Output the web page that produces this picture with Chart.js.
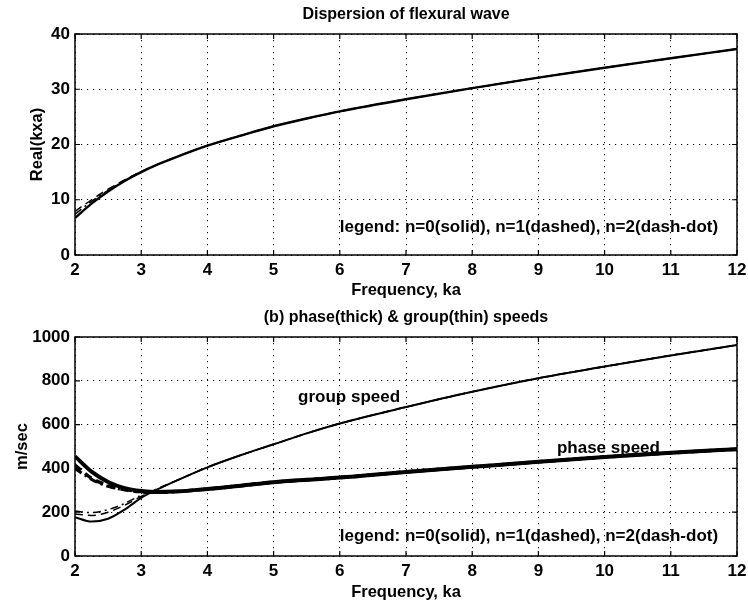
<!DOCTYPE html>
<html>
<head>
<meta charset="utf-8">
<script src="https://cdn.jsdelivr.net/npm/chart.js@4.4.1/dist/chart.umd.min.js"></script>
<style>
  body { margin: 0; background: #fff; }
  .panel { position: relative; width: 748px; }
  #top { height: 305px; }
  #bottom { height: 300px; }
</style>
</head>
<body>
<div class="panel" id="top"><canvas id="wave"></canvas></div>
<div class="panel" id="bottom"><canvas id="speed"></canvas></div>
<script>
// frequency samples (ka)
const ka = [2, 2.25, 2.5, 2.75, 3, 3.25, 3.5, 4, 4.5, 5, 5.5, 6, 7, 8, 9, 10, 11, 12]

// Real(kxa) for the first three modes
const kxN0 = [6.7, 9.3, 11.5, 13.4, 15.0, 16.4, 17.6, 19.8, 21.6, 23.3, 24.7, 26.0, 28.2, 30.2, 32.1, 33.9, 35.6, 37.3]
const kxN1 = [7.9, 10.0, 11.9, 13.6, 15.1, 16.4, 17.6, 19.8, 21.6, 23.3, 24.7, 26.0, 28.2, 30.2, 32.1, 33.9, 35.6, 37.3]
const kxN2 = [7.4, 9.7, 11.7, 13.5, 15.05, 16.4, 17.6, 19.8, 21.6, 23.3, 24.7, 26.0, 28.2, 30.2, 32.1, 33.9, 35.6, 37.3]

// phase speed, m/sec
const phaseN0 = [455, 385, 338, 310, 297, 292, 294, 306, 321, 337, 348, 358, 384, 407, 430, 452, 471, 488]
const phaseN1 = [415, 355, 322, 303, 294, 292, 294, 306, 321, 337, 348, 358, 384, 407, 430, 452, 471, 488]
const phaseN2 = [400, 350, 318, 302, 294, 292, 294, 306, 321, 337, 348, 358, 384, 407, 430, 452, 471, 488]

// group speed, m/sec
const groupN0 = [177, 157, 170, 212, 265, 305, 340, 405, 460, 510, 560, 605, 680, 750, 812, 865, 916, 963]
const groupN1 = [192, 185, 200, 232, 272, 307, 340, 405, 460, 510, 560, 605, 680, 750, 812, 865, 916, 963]
const groupN2 = [205, 198, 212, 240, 278, 308, 340, 405, 460, 510, 560, 605, 680, 750, 812, 865, 916, 963]

const legendNote = "legend: n=0(solid), n=1(dashed), n=2(dash-dot)"

const FONT = '"Liberation Sans", Arial, Helvetica, sans-serif'
const DASHED = [8, 5]
const DASH_DOT = [8, 4, 2, 4]

Chart.defaults.font.family = FONT
Chart.defaults.color = "#000"

const points = (ys) => ys.map((y, i) => ({ x: ka[i], y }))

const line = (ys, width, dash) => ({
  data: points(ys),
  borderColor: "#000",
  borderWidth: width,
  borderDash: dash || [],
  pointRadius: 0,
  cubicInterpolationMode: "monotone",
  fill: false,
})

// closed axes box with inward tick marks on all four sides
const frame = {
  id: "frame",
  afterDatasetsDraw(chart) {
    const { ctx, chartArea: a, scales: { x, y } } = chart
    const len = 5
    ctx.save()
    ctx.strokeStyle = "#000"
    ctx.lineWidth = 1.5
    ctx.strokeRect(a.left, a.top, a.right - a.left, a.bottom - a.top)
    ctx.lineWidth = 1.2
    ctx.beginPath()
    x.ticks.forEach((t) => {
      const px = x.getPixelForValue(t.value)
      ctx.moveTo(px, a.bottom)
      ctx.lineTo(px, a.bottom - len)
      ctx.moveTo(px, a.top)
      ctx.lineTo(px, a.top + len)
    })
    y.ticks.forEach((t) => {
      const py = y.getPixelForValue(t.value)
      ctx.moveTo(a.left, py)
      ctx.lineTo(a.left + len, py)
      ctx.moveTo(a.right, py)
      ctx.lineTo(a.right - len, py)
    })
    ctx.stroke()
    ctx.restore()
  },
}

// text annotations placed in data coordinates
const notes = {
  id: "notes",
  afterDatasetsDraw(chart, args, opts) {
    const { ctx, scales: { x, y } } = chart
    ctx.save()
    ctx.fillStyle = "#000"
    ctx.font = "bold 17px " + FONT
    ctx.textBaseline = "middle"
    ctx.textAlign = "left"
    ;(opts.items || []).forEach((n) => {
      ctx.fillText(n.text, x.getPixelForValue(n.x), y.getPixelForValue(n.y))
    })
    ctx.restore()
  },
}

const makeOptions = ({ title, titlePad, yTitle, yTitlePad, yMax, yStep, xHeight, xTitlePad, items }) => ({
  animation: false,
  responsive: true,
  maintainAspectRatio: false,
  layout: { padding: { left: 0, right: 11, top: 0, bottom: 0 } },
  plugins: {
    legend: { display: false },
    tooltip: { enabled: false },
    title: {
      display: true,
      fullSize: false,
      text: title,
      color: "#000",
      font: { size: 16, weight: "bold" },
      padding: titlePad,
    },
    notes: { items },
  },
  scales: {
    x: {
      type: "linear",
      min: 2,
      max: 12,
      afterFit: (scale) => {
        scale.height = xHeight
        scale.paddingLeft = 0
        scale.paddingRight = 0
      },
      ticks: { stepSize: 1, padding: 5, maxRotation: 0, font: { size: 17, weight: "bold" } },
      grid: { color: "#000", lineWidth: 1, drawTicks: false },
      border: { display: false, dash: [1.2, 4.8] },
      title: {
        display: true,
        text: "Frequency, ka",
        font: { size: 16.5, weight: "bold" },
        padding: { top: 0, bottom: xTitlePad },
      },
    },
    y: {
      min: 0,
      max: yMax,
      afterFit: (scale) => { scale.width = 75 },
      ticks: {
        stepSize: yStep,
        padding: 5,
        font: { size: 17, weight: "bold" },
        callback: (value) => String(value),
      },
      grid: { color: "#000", lineWidth: 1, drawTicks: false },
      border: { display: false, dash: [1.2, 4.8] },
      title: {
        display: true,
        text: yTitle,
        font: { size: 16.5, weight: "bold" },
        padding: { top: yTitlePad, bottom: 0 },
      },
    },
  },
})

new Chart(document.getElementById("wave"), {
  type: "line",
  data: {
    datasets: [
      line(kxN0, 2.4),
      line(kxN1, 1.5, DASHED),
      line(kxN2, 1.5, DASH_DOT),
    ],
  },
  options: makeOptions({
    title: "Dispersion of flexural wave",
    titlePad: { top: 5.4, bottom: 9.4 },
    yTitle: "Real(kxa)",
    yTitlePad: 28,
    yMax: 40,
    yStep: 10,
    xHeight: 50,
    xTitlePad: 5,
    items: [{ text: legendNote, x: 6.0, y: 5.1 }],
  }),
  plugins: [frame, notes],
})

new Chart(document.getElementById("speed"), {
  type: "line",
  data: {
    datasets: [
      line(phaseN0, 4),
      line(phaseN1, 3.5, DASHED),
      line(phaseN2, 3, DASH_DOT),
      line(groupN0, 2),
      line(groupN1, 1.5, DASHED),
      line(groupN2, 1.5, DASH_DOT),
    ],
  },
  options: makeOptions({
    title: "(b) phase(thick) & group(thin) speeds",
    titlePad: { top: 3.4, bottom: 9.4 },
    yTitle: "m/sec",
    yTitlePad: 13,
    yMax: 1000,
    yStep: 200,
    xHeight: 49,
    xTitlePad: 3,
    items: [
      { text: legendNote, x: 6.0, y: 91 },
      { text: "group speed", x: 5.37, y: 723 },
      { text: "phase speed", x: 9.28, y: 491 },
    ],
  }),
  plugins: [frame, notes],
})
</script>
</body>
</html>
